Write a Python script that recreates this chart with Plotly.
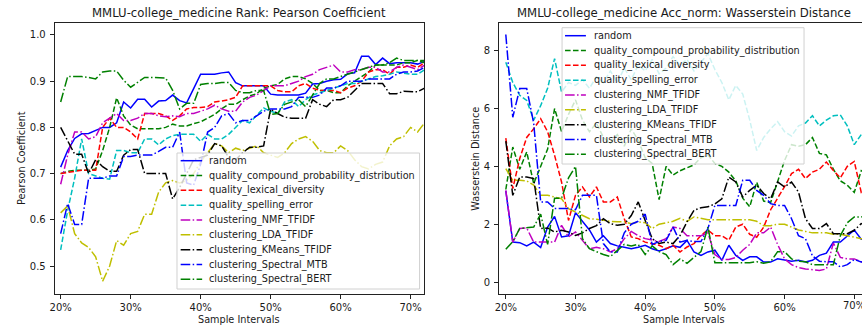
import plotly.graph_objects as go

# Sample intervals (percent of the dataset)
intervals = list(range(20, 73))
x_ticks = [20, 30, 40, 50, 60, 70]
x_tick_text = ["20%", "30%", "40%", "50%", "60%", "70%"]
pearson_ticks = [0.5, 0.6, 0.7, 0.8, 0.9, 1.0]
wass_ticks = [0, 2, 4, 6, 8]

series_names = [
    "random",
    "quality_compound_probability_distribution",
    "quality_lexical_diversity",
    "quality_spelling_error",
    "clustering_NMF_TFIDF",
    "clustering_LDA_TFIDF",
    "clustering_KMeans_TFIDF",
    "clustering_Spectral_MTB",
    "clustering_Spectral_BERT",
]

# ---- Rank: Pearson coefficient ----
pearson_random = [0.714, 0.75, 0.776, 0.786, 0.787, 0.793, 0.80, 0.80, 0.81, 0.855,
                  0.842, 0.861, 0.861, 0.844, 0.857, 0.858, 0.87, 0.858, 0.853, 0.884,
                  0.915, 0.915, 0.915, 0.918, 0.92, 0.897, 0.89, 0.89, 0.89, 0.89,
                  0.872, 0.87, 0.87, 0.87, 0.87, 0.874, 0.894, 0.895, 0.90, 0.903,
                  0.904, 0.916, 0.918, 0.954, 0.954, 0.936, 0.95, 0.938, 0.94, 0.94,
                  0.94, 0.937, 0.943]
pearson_compound = [0.70, 0.705, 0.707, 0.707, 0.707, 0.71, 0.75, 0.80, 0.864, 0.825,
                    0.805, 0.797, 0.797, 0.797, 0.797, 0.80, 0.807, 0.803, 0.803, 0.808,
                    0.812, 0.82, 0.828, 0.84, 0.85, 0.85, 0.86, 0.868, 0.873, 0.885,
                    0.89, 0.893, 0.905, 0.91, 0.91, 0.905, 0.895, 0.88, 0.88, 0.875,
                    0.875, 0.89, 0.90, 0.91, 0.92, 0.935, 0.935, 0.935, 0.935, 0.94,
                    0.94, 0.945, 0.945]
pearson_lexical = [0.70, 0.703, 0.705, 0.707, 0.707, 0.707, 0.80, 0.82, 0.80, 0.80,
                   0.79, 0.775, 0.83, 0.83, 0.83, 0.825, 0.815, 0.825, 0.84, 0.843,
                   0.843, 0.845, 0.855, 0.857, 0.86, 0.865, 0.89, 0.89, 0.89, 0.89,
                   0.89, 0.88, 0.877, 0.877, 0.89, 0.895, 0.885, 0.88, 0.88, 0.88,
                   0.875, 0.885, 0.89, 0.90, 0.92, 0.925, 0.925, 0.915, 0.93, 0.93,
                   0.935, 0.93, 0.94]
pearson_spelling = [0.535, 0.62, 0.69, 0.775, 0.70, 0.695, 0.69, 0.688, 0.75, 0.75,
                    0.745, 0.745, 0.775, 0.775, 0.762, 0.775, 0.782, 0.785, 0.785, 0.785,
                    0.77, 0.785, 0.775, 0.775, 0.785, 0.80, 0.815, 0.81, 0.825, 0.842,
                    0.835, 0.83, 0.855, 0.86, 0.845, 0.86, 0.87, 0.875, 0.88, 0.885,
                    0.89, 0.895, 0.895, 0.90, 0.905, 0.91, 0.912, 0.915, 0.92, 0.918,
                    0.915, 0.915, 0.925]
pearson_nmf = [0.677, 0.74, 0.79, 0.79, 0.775, 0.78, 0.81, 0.82, 0.83, 0.815,
               0.815, 0.82, 0.83, 0.83, 0.825, 0.823, 0.825, 0.823, 0.83, 0.83,
               0.835, 0.84, 0.848, 0.84, 0.835, 0.835, 0.855, 0.865, 0.87, 0.88,
               0.89, 0.89, 0.89, 0.895, 0.90, 0.91, 0.915, 0.925, 0.93, 0.935,
               0.92, 0.92, 0.925, 0.925, 0.93, 0.93, 0.92, 0.92, 0.93, 0.935,
               0.93, 0.925, 0.935]
pearson_lda = [0.615, 0.63, 0.57, 0.55, 0.54, 0.52, 0.467, 0.50, 0.555, 0.545,
               0.57, 0.575, 0.612, 0.612, 0.66, 0.68, 0.685, 0.68, 0.685, 0.70,
               0.725, 0.745, 0.765, 0.76, 0.745, 0.755, 0.75, 0.755, 0.76, 0.745,
               0.74, 0.735, 0.745, 0.765, 0.775, 0.78, 0.77, 0.75, 0.745, 0.745,
               0.76, 0.75, 0.73, 0.715, 0.71, 0.72, 0.725, 0.76, 0.775, 0.78,
               0.80, 0.79, 0.81]
pearson_kmeans = [0.80, 0.77, 0.742, 0.742, 0.70, 0.73, 0.715, 0.705, 0.705, 0.74,
                  0.752, 0.752, 0.70, 0.70, 0.70, 0.70, 0.645, 0.67, 0.70, 0.73,
                  0.735, 0.74, 0.765, 0.76, 0.735, 0.73, 0.745, 0.757, 0.757, 0.76,
                  0.84, 0.83, 0.822, 0.82, 0.82, 0.82, 0.86, 0.85, 0.845, 0.86,
                  0.86, 0.865, 0.88, 0.895, 0.895, 0.895, 0.895, 0.873, 0.873, 0.878,
                  0.877, 0.877, 0.885]
pearson_mtb = [0.57, 0.635, 0.59, 0.59, 0.69, 0.69, 0.69, 0.695, 0.695, 0.737,
               0.737, 0.74, 0.74, 0.74, 0.748, 0.757, 0.757, 0.79, 0.68, 0.675,
               0.72, 0.79, 0.80, 0.825, 0.83, 0.81, 0.815, 0.815, 0.825, 0.835,
               0.84, 0.84, 0.84, 0.845, 0.865, 0.865, 0.865, 0.87, 0.885, 0.885,
               0.89, 0.90, 0.90, 0.90, 0.905, 0.905, 0.905, 0.905, 0.915, 0.92,
               0.92, 0.922, 0.93]
pearson_bert = [0.855, 0.91, 0.91, 0.91, 0.908, 0.905, 0.92, 0.922, 0.922, 0.902,
                0.887, 0.898, 0.908, 0.908, 0.908, 0.907, 0.88, 0.84, 0.852, 0.852,
                0.893, 0.895, 0.895, 0.897, 0.897, 0.88, 0.875, 0.875, 0.88, 0.88,
                0.828, 0.83, 0.85, 0.855, 0.86, 0.845, 0.87, 0.895, 0.905, 0.905,
                0.91, 0.915, 0.92, 0.925, 0.93, 0.935, 0.935, 0.94, 0.95, 0.945,
                0.945, 0.945, 0.94]

# ---- Acc_norm: Wasserstein distance ----
wass_random = [3.15, 1.38, 1.36, 1.25, 1.38, 1.19, 1.9, 2.27, 1.56, 1.6,
               2.4, 2.08, 1.8, 1.38, 1.6, 1.33, 1.25, 1.2, 1.15, 1.2,
               1.27, 1.15, 1.07, 1.15, 1.25, 1.2, 1.44, 1.04, 0.92, 1.04,
               1.1, 0.75, 1.27, 0.92, 0.75, 0.87, 0.87, 0.69, 0.69, 0.8,
               0.75, 0.72, 0.75, 0.69, 0.75, 0.92, 1.0, 1.38, 1.38, 1.6,
               1.8, 1.48, 1.5]
wass_compound = [3.2, 4.67, 3.9, 4.5, 3.4, 4.0, 4.6, 6.0, 5.2, 5.8,
                 6.3, 5.6, 5.2, 5.5, 5.0, 4.8, 5.1, 4.7, 5.3, 4.9,
                 4.3, 4.1, 2.85, 4.0, 3.7, 3.85, 3.95, 4.05, 4.3, 4.4,
                 4.1, 4.0, 3.8, 3.5, 2.9, 2.6, 3.45, 2.8, 2.75, 3.5,
                 4.2, 4.75, 4.7, 4.75, 5.0, 4.45, 4.4, 3.9, 3.5, 3.35,
                 3.1, 3.85, 3.7]
wass_lexical = [4.98, 3.23, 4.27, 5.0, 5.3, 5.65, 5.2, 4.38, 3.46, 2.13,
                3.0, 3.29, 2.94, 3.29, 2.77, 2.77, 2.94, 2.19, 1.56, 1.5,
                1.38, 1.33, 1.27, 1.15, 1.27, 1.04, 1.21, 1.33, 1.61, 1.8,
                1.6, 1.6, 1.45, 1.9, 2.0, 1.65, 1.55, 1.9, 2.5, 2.9,
                3.3, 3.75, 3.9, 3.58, 3.8, 3.9, 4.15, 3.86, 3.6, 4.0,
                4.17, 3.1, 3.2]
wass_spelling = [7.6, 6.9, 6.46, 6.28, 5.6, 6.1, 6.7, 7.73, 6.57, 6.9,
                 6.8, 7.0, 6.7, 7.1, 6.9, 7.3, 6.9, 7.4, 7.0, 7.5,
                 7.3, 7.7, 7.2, 7.4, 7.8, 7.5, 7.7, 7.3, 7.6, 7.9,
                 7.35, 6.9, 6.3, 6.8, 6.5, 5.6, 4.55, 5.0, 5.3, 5.55,
                 5.2, 5.05, 5.4, 5.5, 5.75, 5.4, 5.6, 5.75, 5.78, 5.4,
                 4.75, 5.1, 5.0]
wass_nmf = [3.17, 1.38, 1.85, 1.87, 1.38, 1.38, 1.38, 1.38, 1.96, 1.56,
            1.73, 1.44, 1.15, 1.2, 1.15, 1.04, 1.15, 1.5, 1.75, 1.6,
            1.5, 1.45, 1.4, 1.5, 1.9, 1.85, 1.6, 1.6, 1.6, 1.7,
            0.95, 0.78, 0.78, 0.85, 1.1, 1.3, 1.7, 1.7, 1.9, 1.3,
            0.8, 0.6, 0.5, 0.45, 0.42, 0.4, 0.45, 1.35, 0.85, 0.8,
            0.8, 0.7, 0.7]
wass_lda = [3.92, 3.52, 3.52, 3.5, 3.35, 3.0, 3.0, 2.94, 2.88, 2.54,
            2.42, 2.3, 2.19, 2.17, 2.13, 2.1, 2.08, 2.08, 2.02, 2.08,
            2.05, 1.85, 2.0, 2.05, 2.1, 2.2, 2.1, 2.25, 2.2, 2.15,
            2.15, 2.15, 2.15, 2.15, 2.15, 2.15, 2.1, 1.95, 1.95, 2.0,
            2.0, 1.9, 1.8, 1.75, 1.7, 1.7, 1.7, 1.65, 1.65, 1.6,
            1.55, 1.5, 1.5]
wass_kmeans = [4.87, 3.0, 3.63, 3.63, 3.58, 1.85, 1.87, 1.73, 1.79, 1.73,
               1.61, 1.7, 1.85, 1.95, 2.19, 2.02, 1.96, 2.0, 2.3, 2.77,
               2.13, 1.5, 1.33, 1.38, 1.33, 1.61, 2.08, 2.48, 2.57, 2.6,
               2.7, 2.88, 3.63, 3.46, 2.94, 3.17, 3.35, 3.06, 2.88, 3.46,
               3.29, 3.46, 3.11, 2.19, 1.85, 1.85, 2.02, 1.67, 1.67, 1.67,
               1.79, 2.02, 2.0]
wass_mtb = [8.56, 5.7, 6.69, 6.69, 5.5, 2.77, 2.77, 2.54, 2.54, 2.54,
            2.5, 3.0, 3.0, 3.0, 1.33, 1.04, 1.04, 1.7, 2.0, 2.1,
            2.35, 1.3, 1.4, 1.44, 1.9, 1.38, 1.44, 1.4, 1.4, 1.85,
            2.65, 2.65, 2.65, 2.65, 3.52, 3.52, 3.17, 3.0, 2.71, 2.65,
            2.65, 2.19, 1.6, 1.5, 0.9, 0.72, 0.7, 0.7, 0.52, 0.6,
            0.78, 0.69, 0.7]
wass_bert = [1.13, 1.4, 1.85, 1.88, 1.9, 2.35, 1.3, 2.9, 2.9, 3.6,
             4.0, 1.5, 1.15, 1.05, 0.95, 0.88, 1.1, 1.3, 1.25, 1.3,
             0.95, 1.25, 1.05, 0.95, 0.6, 0.8, 0.65, 0.85, 1.05, 1.9,
             0.67, 0.67, 0.67, 0.67, 0.65, 0.67, 0.7, 0.65, 0.7, 1.05,
             1.05, 0.8, 0.72, 0.7, 0.6, 0.6, 0.58, 0.6, 1.6, 2.05,
             2.25, 2.25, 2.3]

pearson_series = [pearson_random, pearson_compound, pearson_lexical, pearson_spelling,
                  pearson_nmf, pearson_lda, pearson_kmeans, pearson_mtb, pearson_bert]
wass_series = [wass_random, wass_compound, wass_lexical, wass_spelling,
               wass_nmf, wass_lda, wass_kmeans, wass_mtb, wass_bert]

# matplotlib-like colour / dash cycle
DASH = "5.55px,2.4px"
DASHDOT = "9.6px,2.4px,1.5px,2.4px"
styles = [
    ("#0000ff", "solid"),
    ("#008000", DASH),
    ("#ff0000", DASH),
    ("#00bfbf", DASH),
    ("#bf00bf", DASHDOT),
    ("#bfbf00", DASHDOT),
    ("#000000", DASHDOT),
    ("#0000ff", DASHDOT),
    ("#008000", DASHDOT),
]

W, H = 862, 331
FONT = "DejaVu Sans"
TXT = "#1a1a1a"


def px(x):
    return x / W


def py(y):
    return 1 - y / H


fig = go.Figure()

for name, ys, (col, dash) in zip(series_names, pearson_series, styles):
    fig.add_trace(go.Scatter(x=intervals, y=ys, mode="lines", name=name,
                             line=dict(color=col, width=1.5, dash=dash),
                             xaxis="x", yaxis="y", showlegend=False))
for name, ys, (col, dash) in zip(series_names, wass_series, styles):
    fig.add_trace(go.Scatter(x=intervals, y=ys, mode="lines", name=name,
                             line=dict(color=col, width=1.5, dash=dash),
                             xaxis="x2", yaxis="y2", showlegend=False))

axis_common = dict(
    showgrid=False, zeroline=False, showline=True, linecolor="#222", linewidth=1,
    ticks="outside", ticklen=4, tickwidth=1, tickcolor="#222",
    tickfont=dict(family=FONT, size=10, color=TXT),
)

# right panel runs past the page edge: its last tick label is placed by hand
right_tick_text = x_tick_text[:-1] + [""]

y_dom = [py(294), py(22.7)]
fig.update_layout(
    width=W, height=H, margin=dict(l=0, r=0, t=0, b=0),
    paper_bgcolor="white", plot_bgcolor="white",
    xaxis=dict(domain=[px(50), px(421.7)], range=[19.15, 71.95], anchor="y",
               tickvals=x_ticks, ticktext=x_tick_text, mirror=True,
               **axis_common),
    yaxis=dict(domain=y_dom, range=[0.4394, 1.0266], anchor="x",
               tickvals=pearson_ticks, tickformat=".1f", mirror=True,
               ticklabelstandoff=2, **axis_common),
    xaxis2=dict(domain=[px(497), 1.0], range=[19.04, 71.11], anchor="y2",
                tickvals=x_ticks, ticktext=right_tick_text, mirror=True,
                **axis_common),
    yaxis2=dict(domain=y_dom, range=[-0.415, 8.97], anchor="x2",
                tickvals=wass_ticks, mirror=False,
                ticklabelstandoff=2, **axis_common),
)

annotations = []
shapes = []


def label(x, y, text, size=10, anchor="center", angle=0):
    annotations.append(dict(x=px(x), y=py(y), xref="paper", yref="paper", text=text,
                            showarrow=False, xanchor=anchor, yanchor="middle",
                            textangle=angle,
                            font=dict(family=FONT, size=size, color=TXT)))


# titles and axis labels
label(235.8, 12.7, "MMLU-college_medicine Rank: Pearson Coefficient", size=11.7)
label(682.5, 12.7, "MMLU-college_medicine Acc_norm: Wasserstein Distance", size=11.7)
label(235.8, 319, "Sample Intervals", size=9.7)
label(682.5, 319, "Sample Intervals", size=9.7)
label(16, 158, "Pearson Coefficient", size=9.7, angle=-90)
label(472.5, 159, "Wasserstein Distance", size=9.7, angle=-90)

# last x tick label of the right panel, anchored on its tick value
annotations.append(dict(x=x_ticks[-1], xref="x2", y=py(305.5), yref="paper",
                        text=x_tick_text[-1], showarrow=False, xanchor="center",
                        yanchor="middle",
                        font=dict(family=FONT, size=10, color=TXT)))


def legend_box(x0, y0, x1, y1, line_x0, line_x1, text_x, row0, step):
    shapes.append(dict(type="rect", xref="paper", yref="paper", layer="above",
                       x0=px(x0), x1=px(x1), y0=py(y1), y1=py(y0),
                       fillcolor="rgba(255,255,255,0.8)",
                       line=dict(color="#d0d0d0", width=1)))
    for i, (name, (col, dash)) in enumerate(zip(series_names, styles)):
        yy = row0 + i * step
        shapes.append(dict(type="line", xref="paper", yref="paper", layer="above",
                           x0=px(line_x0), x1=px(line_x1), y0=py(yy), y1=py(yy),
                           line=dict(color=col, width=1.5, dash=dash)))
        label(text_x, yy, name, size=9.7, anchor="left")


legend_box(173, 153, 417, 289, 176.7, 198.3, 203.5, 160.7, 14.83)
legend_box(560.3, 27.7, 803.7, 164, 563.3, 584.3, 590.5, 35.7, 14.83)

fig.update_layout(annotations=annotations, shapes=shapes)
fig.write_html("out.html")
